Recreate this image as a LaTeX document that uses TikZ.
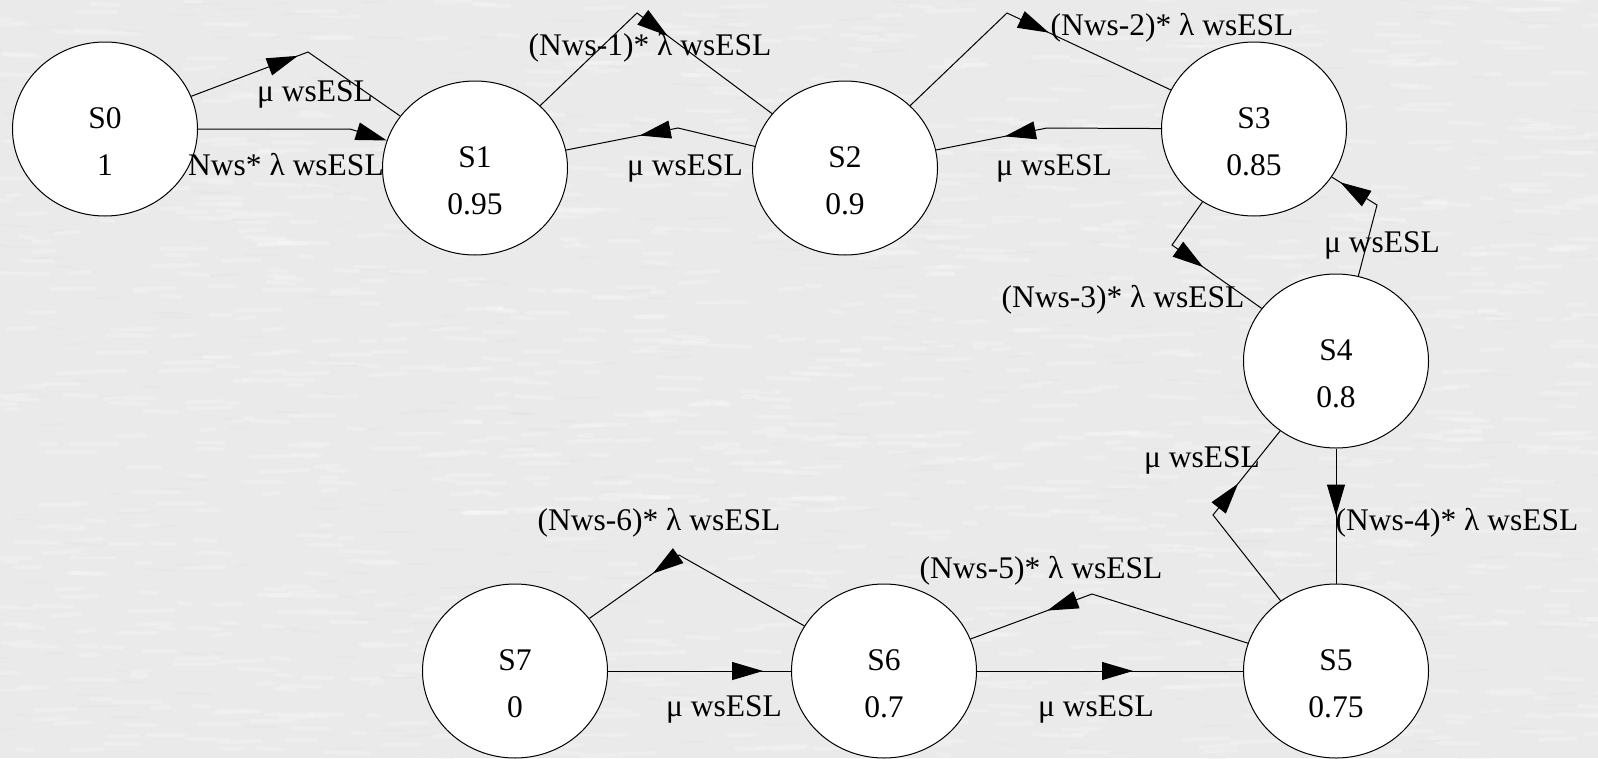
\documentclass[tikz,border=0pt]{standalone}
\usepackage{fontspec}
\setmainfont{Liberation Serif}
\usetikzlibrary{arrows.meta,decorations.markings,shapes.geometric}

% two stacked lines inside a state: name on top, value below
\newcommand\statelines[2]{\raisebox{-46.5pt}[0pt][0pt]{\begin{tabular}[b]{@{}c@{}}#1\\#2\end{tabular}}}

\definecolor{paper}{HTML}{EAEAEA}
\definecolor{paperdark}{HTML}{DEDEDE}

\begin{document}
\begin{tikzpicture}[x=1pt,y=-1pt,
  state/.style={ellipse, draw, fill=white, line width=1pt, inner sep=0pt,
    minimum width=185pt, minimum height=174pt,
    font=\fontsize{31.5}{47.5}\selectfont},
  lbl/.style={anchor=base, inner sep=0pt, font=\fontsize{31.5}{38}\selectfont},
  edge/.style={draw, line width=1pt},
  gvtip/.tip={Triangle[length=31pt,width=18pt]},
  atip/.style={postaction={decorate},
    decoration={markings, mark=at position #1 with {\arrow{gvtip}}}},
  fibre/.style={line width=4pt, line cap=round, opacity=0.22}
]
% page and paper background with a light fibrous grain
\fill[paper] (0,0) rectangle (1598,758);
\pgfmathsetseed{4217}
\begin{scope}
  \clip (0,0) rectangle (1598,758);
  \foreach \i in {1,...,1400} {
    \pgfmathsetmacro\gx{rnd*1640-20}
    \pgfmathsetmacro\gy{rnd*770-6}
    \pgfmathsetmacro\gl{10+rnd*40}
    \draw[fibre, white] (\gx,\gy) -- ++(\gl,rnd*4-2);
  }
  \foreach \i in {1,...,500} {
    \pgfmathsetmacro\gx{rnd*1640-20}
    \pgfmathsetmacro\gy{rnd*770-6}
    \pgfmathsetmacro\gl{8+rnd*30}
    \draw[fibre, paperdark, line width=2pt] (\gx,\gy) -- ++(\gl,rnd*4-2);
  }
\end{scope}
\useasboundingbox (0,0) rectangle (1598,758);

% states
\node[state] (S0) at (105,129) {\statelines{S0}{1}};
\node[state] (S1) at (475,168) {\statelines{S1}{0.95}};
\node[state] (S2) at (845,168) {\statelines{S2}{0.9}};
\node[state] (S3) at (1254,129) {\statelines{S3}{0.85}};
\node[state] (S4) at (1336,361) {\statelines{S4}{0.8}};
\node[state] (S5) at (1336,671) {\statelines{S5}{0.75}};
\node[state] (S6) at (884,671) {\statelines{S6}{0.7}};
\node[state] (S7) at (515,671) {\statelines{S7}{0}};

% bend points of the polyline transitions
\coordinate (b01) at (308,52);
\coordinate (b02) at (350,129);
\coordinate (b12) at (637,13);
\coordinate (b21) at (678,128);
\coordinate (b23) at (1007,13);
\coordinate (b32) at (1047,128);
\coordinate (b34) at (1172,245);
\coordinate (b43) at (1377,205);
\coordinate (b54) at (1213,515);
\coordinate (b56) at (1092,594);
\coordinate (b67) at (679,555);

% transitions
\draw[edge, atip=114pt] (S0) -- (b01) -- (S1);
\draw[edge, -{gvtip}] (S0) -- (b02) -- (S1);
\draw[edge, atip=172pt] (S1) -- (b12) -- (S2);
\draw[edge, atip=118pt] (S2) -- (b21) -- (S1);
\draw[edge, atip=180pt] (S2) -- (b23) -- (S3);
\draw[edge, atip=157pt] (S3) -- (b32) -- (S2);
\draw[edge, atip=91pt] (S3) -- (b34) -- (S4);
\draw[edge, atip=-10pt] (S4) -- (b43) -- (S3);
\draw[edge, atip=67pt] (S4) -- (S5);
\draw[edge, atip=149pt] (S5) -- (b54) -- (S4);
\draw[edge, atip=211pt] (S5) -- (b56) -- (S6);
\draw[edge, atip=156pt] (S6) -- (S5);
\draw[edge, atip=176pt] (S6) -- (b67) -- (S7);
\draw[edge, atip=155pt] (S7) -- (S6);

% transition rates
\node[lbl] (l01) at (315,101) {μ wsESL};
\node[lbl] (l02) at (286,175) {Nws* λ wsESL};
\node[lbl] (l12) at (650,55) {(Nws-1)* λ wsESL};
\node[lbl] (l21) at (685,175) {μ wsESL};
\node[lbl] (l23) at (1172,35) {(Nws-2)* λ wsESL};
\node[lbl] (l32) at (1054,175) {μ wsESL};
\node[lbl] (l34) at (1123,307) {(Nws-3)* λ wsESL};
\node[lbl] (l43) at (1382,252) {μ wsESL};
\node[lbl] (l45) at (1457,530) {(Nws-4)* λ wsESL};
\node[lbl] (l54) at (1202,467) {μ wsESL};
\node[lbl] (l56) at (1041,578) {(Nws-5)* λ wsESL};
\node[lbl] (l65) at (1096,716) {μ wsESL};
\node[lbl] (l67) at (659,530) {(Nws-6)* λ wsESL};
\node[lbl] (l76) at (724,716) {μ wsESL};
\end{tikzpicture}
\end{document}
